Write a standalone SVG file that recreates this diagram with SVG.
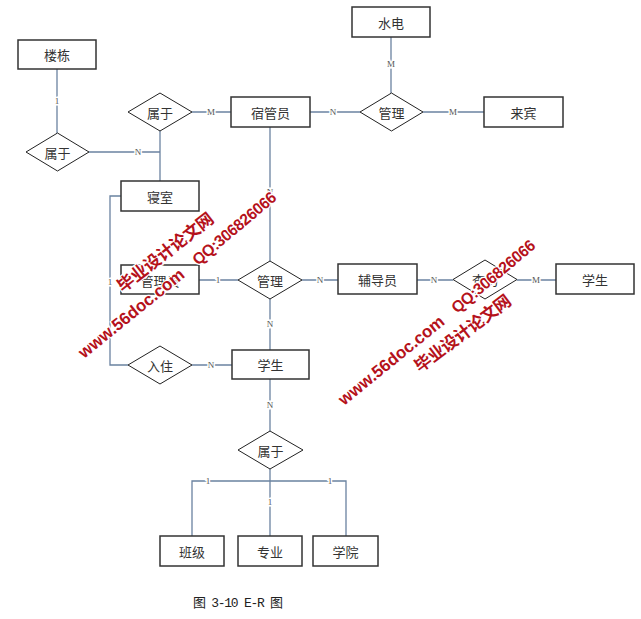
<svg xmlns="http://www.w3.org/2000/svg" width="641" height="619" viewBox="0 0 641 619">
<style>
.ent rect{fill:#fff;stroke:#333;stroke-width:1.5}
.rel polygon{fill:#fff;stroke:#222;stroke-width:1}
.t{font-family:"Noto Sans CJK SC","Noto Sans",sans-serif;font-size:13px;fill:#333;text-anchor:middle;dominant-baseline:central}
#connectors path{fill:none;stroke:#6a82a0;stroke-width:1.3}
.lb{font-family:"Liberation Serif",serif;font-size:9px;fill:#555;text-anchor:middle;dominant-baseline:central;stroke:#fff;stroke-width:3;paint-order:stroke}
.wm{font-family:"Liberation Sans",Arial,"Noto Sans CJK SC",sans-serif;font-weight:bold;fill:#b5121b;stroke:#fff;stroke-width:2.5;paint-order:stroke}
.cap{font-family:"Liberation Mono","Noto Sans CJK SC",monospace;font-size:13px;fill:#222}
</style>
<rect width="641" height="619" fill="#fff"/>
<g id="connectors">
<path d="M57,69V133"/>
<path d="M89,152H160"/>
<path d="M160,131V181"/>
<path d="M192,112H231"/>
<path d="M310,112H360"/>
<path d="M391,37V93"/>
<path d="M423,112H484"/>
<path d="M270,127V261"/>
<path d="M199,280H238"/>
<path d="M302,280H338"/>
<path d="M417,280H453"/>
<path d="M517,280H556"/>
<path d="M270,299V350"/>
<path d="M121,196H110V365H128"/>
<path d="M192,365H232"/>
<path d="M270,379V431"/>
<path d="M270,469V536"/>
<path d="M270,481H192V536"/>
<path d="M270,481H346V536"/>
<text class="lb" x="57" y="101">1</text>
<text class="lb" x="138" y="152">N</text>
<text class="lb" x="211" y="112">M</text>
<text class="lb" x="333" y="112">N</text>
<text class="lb" x="391" y="64">M</text>
<text class="lb" x="453" y="112">M</text>
<text class="lb" x="270" y="192">N</text>
<text class="lb" x="218" y="280">1</text>
<text class="lb" x="320" y="280">N</text>
<text class="lb" x="434" y="280">N</text>
<text class="lb" x="536" y="280">M</text>
<text class="lb" x="270" y="324">N</text>
<text class="lb" x="110" y="282">1</text>
<text class="lb" x="211" y="365">N</text>
<text class="lb" x="270" y="405">N</text>
<text class="lb" x="270" y="502">1</text>
<text class="lb" x="208" y="481">1</text>
<text class="lb" x="330" y="481">1</text>
</g>
<g id="loudong" class="ent"><rect x="18" y="40" width="78" height="29"/><text class="t" x="57" y="54.5">楼栋</text></g>
<g id="shuidian" class="ent"><rect x="352" y="7" width="78" height="30"/><text class="t" x="391" y="22">水电</text></g>
<g id="suguanyuan" class="ent"><rect x="231" y="97" width="79" height="30"/><text class="t" x="270.5" y="112">宿管员</text></g>
<g id="laibin" class="ent"><rect x="484" y="97" width="79" height="30"/><text class="t" x="523.5" y="112">来宾</text></g>
<g id="qinshi" class="ent"><rect x="121" y="181" width="78" height="30"/><text class="t" x="160" y="196">寝室</text></g>
<g id="guanliyuan" class="ent"><rect x="121" y="265" width="78" height="29"/><text class="t" x="160" y="280">管理员</text></g>
<g id="fudaoyuan" class="ent"><rect x="338" y="264" width="79" height="30"/><text class="t" x="377.5" y="279">辅导员</text></g>
<g id="xuesheng2" class="ent"><rect x="556" y="264" width="78" height="30"/><text class="t" x="595" y="279">学生</text></g>
<g id="xuesheng" class="ent"><rect x="232" y="350" width="77" height="29"/><text class="t" x="270.5" y="364.5">学生</text></g>
<g id="banji" class="ent"><rect x="160" y="536" width="64" height="30"/><text class="t" x="192" y="551">班级</text></g>
<g id="zhuanye" class="ent"><rect x="238" y="536" width="64" height="30"/><text class="t" x="270" y="551">专业</text></g>
<g id="xueyuan" class="ent"><rect x="313" y="536" width="65" height="30"/><text class="t" x="345.5" y="551">学院</text></g>
<g id="shuyu1" class="rel"><polygon points="57.5,133 89,152 57.5,171 26,152"/><text class="t" x="57.5" y="152">属于</text></g>
<g id="shuyu2" class="rel"><polygon points="160,93 192,112 160,131 128,112"/><text class="t" x="160" y="112">属于</text></g>
<g id="guanli1" class="rel"><polygon points="391.5,93 423,112 391.5,131 360,112"/><text class="t" x="391.5" y="112">管理</text></g>
<g id="guanli2" class="rel"><polygon points="270,261 302,280 270,299 238,280"/><text class="t" x="270" y="280">管理</text></g>
<g id="chaxun" class="rel"><polygon points="485,260 517,279.5 485,299 453,279.5"/><text class="t" x="485" y="279.5">查询</text></g>
<g id="ruzhu" class="rel"><polygon points="160,346 192,365 160,384 128,365"/><text class="t" x="160" y="365">入住</text></g>
<g id="shuyu3" class="rel"><polygon points="270,431 303,450 270,469 238,450"/><text class="t" x="270.5" y="450">属于</text></g>
<text class="cap" x="193" y="607" textLength="90">图 3-10 E-R 图</text>
<g id="watermarks">
<text class="wm" font-size="17" transform="translate(123,293) rotate(-38)" textLength="117">毕业设计论文网</text>
<text class="wm" font-size="17" transform="translate(84,359) rotate(-39)" textLength="131">www.56doc.com</text>
<text class="wm" font-size="16" font-weight="normal" transform="translate(198,266) rotate(-40)" textLength="104">QQ:306826066</text>
<text class="wm" font-size="17" transform="translate(420,373) rotate(-37)" textLength="116">毕业设计论文网</text>
<text class="wm" font-size="17" transform="translate(344,406) rotate(-39)" textLength="131">www.56doc.com</text>
<text class="wm" font-size="16" font-weight="normal" transform="translate(457,314) rotate(-40)" textLength="104">QQ:306826066</text>
</g>
</svg>
